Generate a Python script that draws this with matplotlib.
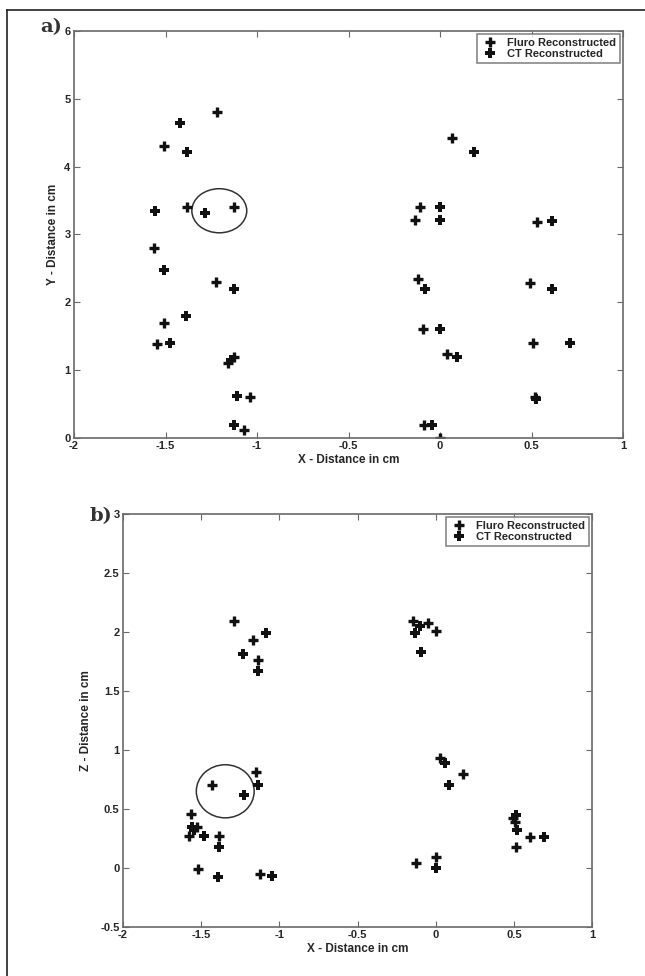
import matplotlib
matplotlib.use("Agg")
import matplotlib.pyplot as plt
from matplotlib.patches import Ellipse
from matplotlib.lines import Line2D

plt.rcParams['font.family'] = ['Liberation Sans', 'DejaVu Sans']

# ---------------- Panel a data (X vs Y) ----------------
a_fluro_x = [-1.216, -1.51, -1.384, -1.124, -1.565, -1.224, -1.51, -1.548, -1.157, -1.124, -1.037, -1.069,
             0.066, -0.111, -0.138, 0.528, -0.122, 0.49, -0.093, 0.036, 0.51, 0.519, -0.089, 0.0]
a_fluro_y = [4.81, 4.30, 3.41, 3.41, 2.80, 2.30, 1.70, 1.39, 1.11, 1.19, 0.60, 0.12,
             4.42, 3.41, 3.22, 3.18, 2.34, 2.29, 1.61, 1.24, 1.40, 0.60, 0.19, 0.0]
a_ct_x = [-1.42, -1.384, -1.283, -1.557, -1.51, -1.124, -1.388, -1.474, -1.14, -1.111, -1.127,
          0.184, 0.0, 0.0, 0.612, -0.084, 0.614, 0.0, 0.093, 0.709, 0.522, -0.045]
a_ct_y = [4.65, 4.21, 3.31, 3.34, 2.48, 2.20, 1.80, 1.40, 1.15, 0.62, 0.19,
          4.21, 3.41, 3.21, 3.20, 2.20, 2.20, 1.60, 1.19, 1.40, 0.57, 0.19]
a_circle = (-1.206, 3.35, 0.30, 0.65)   # x, y, width, height

# ---------------- Panel b data (X vs Z) ----------------
b_fluro_x = [-1.293, -1.169, -1.137, -1.15, -1.433, -1.567, -1.525, -1.578, -1.388, -1.519, -1.122,
             -0.145, -0.051, 0.0, 0.027, 0.176, 0.495, 0.505, 0.605, 0.512, -0.124, 0.0]
b_fluro_z = [2.09, 1.93, 1.76, 0.81, 0.70, 0.46, 0.35, 0.27, 0.27, -0.01, -0.05,
             2.09, 2.08, 2.01, 0.93, 0.80, 0.42, 0.39, 0.26, 0.18, 0.045, 0.09]
b_ct_x = [-1.083, -1.233, -1.137, -1.137, -1.226, -1.557, -1.546, -1.482, -1.388, -1.393, -1.047,
          -0.098, -0.133, -0.096, 0.058, 0.083, 0.516, 0.522, 0.693, 0.0]
b_ct_z = [1.99, 1.81, 1.67, 0.70, 0.62, 0.35, 0.32, 0.27, 0.18, -0.08, -0.07,
          2.05, 1.99, 1.83, 0.89, 0.70, 0.45, 0.32, 0.26, 0.0]
b_circle = (-1.346, 0.65, 0.37, 0.45)

x_ticks = [-2, -1.5, -1, -0.5, 0, 0.5, 1]
x_ticklabels = ['-2', '-1.5', '-1', '-0.5', '0', '0.5', '1']
a_yticks = [0, 1, 2, 3, 4, 5, 6]
a_yticklabels = ['0', '1', '2', '3', '4', '5', '6']
b_yticks = [-0.5, 0, 0.5, 1, 1.5, 2, 2.5, 3]
b_yticklabels = ['-0.5', '0', '0.5', '1', '1.5', '2', '2.5', '3']

W, H = 645, 976
fig = plt.figure(figsize=(W / 100, H / 100), dpi=100)

def fig_rect(l, t, r, b):
    return [l / W, 1 - b / H, (r - l) / W, (b - t) / H]

spine_col = '#6a6a6a'
text_col = '#262626'

def style(ax, xt, xtl, yt, ytl, xlim, ylim):
    ax.set_xlim(*xlim)
    ax.set_ylim(*ylim)
    ax.set_xticks(xt)
    ax.set_xticklabels(xtl)
    ax.set_yticks(yt)
    ax.set_yticklabels(ytl)
    ax.tick_params(direction='in', length=4, width=0.8, color=spine_col,
                   top=True, right=True, labelsize=8, pad=2.5)
    for lbl in ax.get_xticklabels() + ax.get_yticklabels():
        lbl.set_fontweight('bold')
        lbl.set_color(text_col)
    for s in ax.spines.values():
        s.set_color(spine_col)
        s.set_linewidth(1.2)

def points(ax, fx, fy, cx, cy):
    ax.plot(fx, fy, linestyle='none', marker='+', ms=7.5, mew=2.4, color='#111111',
            label='Fluro Reconstructed')
    ax.plot(cx, cy, linestyle='none', marker='P', ms=7, mew=0, color='#111111',
            label='CT Reconstructed')

def legend(ax):
    leg = ax.legend(loc='upper right', fontsize=8, frameon=True, fancybox=False,
                    borderaxespad=0.3, handlelength=1.6, handletextpad=0.8,
                    borderpad=0.3, labelspacing=0.15)
    leg.get_frame().set_edgecolor(spine_col)
    leg.get_frame().set_linewidth(1.2)
    for t in leg.get_texts():
        t.set_fontweight('bold')
        t.set_color(text_col)

# Panel a
ax1 = fig.add_axes(fig_rect(74, 31, 623, 438))
points(ax1, a_fluro_x, a_fluro_y, a_ct_x, a_ct_y)
cx, cy, cw, ch = a_circle
ax1.add_patch(Ellipse((cx, cy), cw, ch, fill=False, edgecolor='#333333', lw=1.1))
style(ax1, x_ticks, x_ticklabels, a_yticks, a_yticklabels, (-2, 1), (0, 6))
legend(ax1)
ax1.set_xlabel('X - Distance in cm', fontsize=8.5, fontweight='bold', color=text_col, labelpad=2)
ax1.set_ylabel('Y - Distance in cm', fontsize=8.5, fontweight='bold', color=text_col, labelpad=4)

# Panel b
ax2 = fig.add_axes(fig_rect(123, 514, 592, 927))
points(ax2, b_fluro_x, b_fluro_z, b_ct_x, b_ct_z)
cx, cy, cw, ch = b_circle
ax2.add_patch(Ellipse((cx, cy), cw, ch, fill=False, edgecolor='#333333', lw=1.1))
style(ax2, x_ticks, x_ticklabels, b_yticks, b_yticklabels, (-2, 1), (-0.5, 3))
legend(ax2)
ax2.set_xlabel('X - Distance in cm', fontsize=8.5, fontweight='bold', color=text_col, labelpad=2)
ax2.set_ylabel('Z - Distance in cm', fontsize=8.5, fontweight='bold', color=text_col, labelpad=6)

# panel letters
fig.text(40 / W, 1 - 27 / H, 'a)', fontsize=14, family='DejaVu Serif', fontweight='bold',
         color='#333333', va='center', ha='left')
fig.text(90 / W, 1 - 516 / H, 'b)', fontsize=14, family='DejaVu Serif', fontweight='bold',
         color='#333333', va='center', ha='left')

# outer frame (left and top edges)
fig.add_artist(Line2D([7 / W, 7 / W], [0, 1 - 10 / H], color='#222222', lw=1.2))
fig.add_artist(Line2D([7 / W, 1], [1 - 10 / H, 1 - 10 / H], color='#222222', lw=1.2))

fig.savefig('out.png', dpi=100)
